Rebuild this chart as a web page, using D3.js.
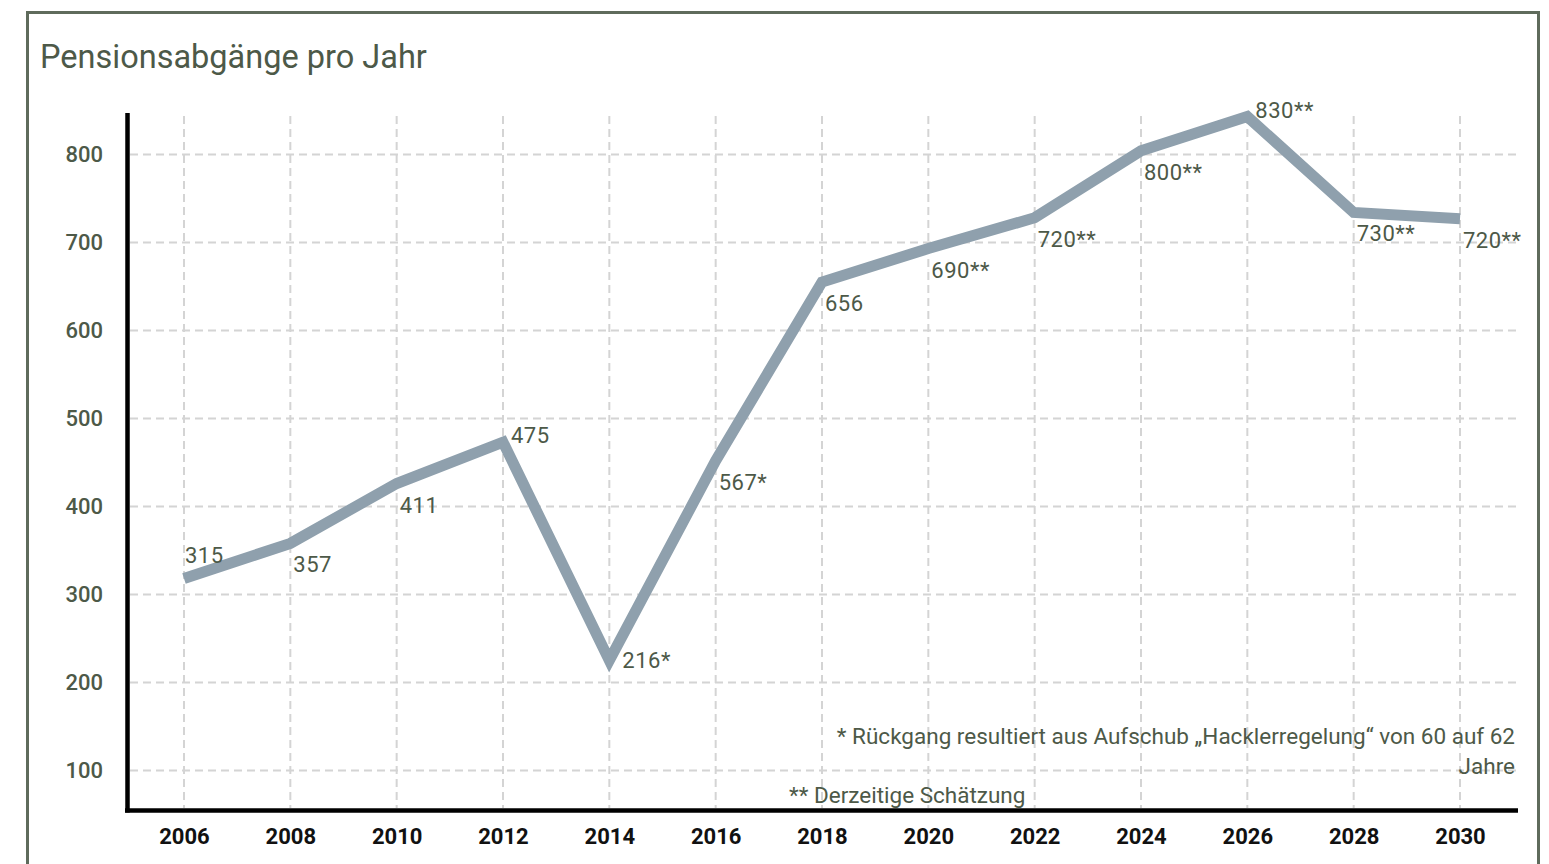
<!DOCTYPE html>
<html>
<head>
<meta charset="utf-8">
<script src="https://cdn.jsdelivr.net/npm/d3@7"></script>
<style>
  html, body { margin: 0; padding: 0; background: #fff; }
  svg { display: block; }
  text { font-family: Roboto, "Noto Sans", sans-serif; }
</style>
</head>
<body>
<svg id="chart" width="1549" height="864"></svg>
<script>
// ---- data ----
const years = ["2006","2008","2010","2012","2014","2016","2018","2020","2022","2024","2026","2028","2030"];
const values = [318, 358, 426, 473, 225, 452, 655, 693, 728, 804, 843, 734, 727];
const pointLabels = ["315","357","411","475","216*","567*","656","690**","720**","800**","830**","730**","720**"];
const yTicks = [100, 200, 300, 400, 500, 600, 700, 800];
const title = "Pensionsabgänge pro Jahr";
const footnote1 = ["* Rückgang resultiert aus Aufschub „Hacklerregelung“ von 60 auf 62", "Jahre"];
const footnote2 = "** Derzeitige Schätzung";

// ---- layout ----
const svg = d3.select("#chart");
const textColor = "#4d5948";

svg.append("rect")
  .attr("x", 27.5).attr("y", 12.5).attr("width", 1511).attr("height", 900)
  .attr("fill", "none").attr("stroke", "#5f6b5c").attr("stroke-width", 3);

svg.append("text").attr("x", 40).attr("y", 68)
  .attr("font-size", 32.5).attr("fill", textColor).text(title);

const x = d3.scalePoint().domain(years).range([127, 1517]).padding(0.536);
const y = d3.scaleLinear().domain([55, 845]).range([810, 114.8]);

// grid
const grid = svg.append("g");
grid.selectAll("line.h").data(yTicks).join("line")
  .attr("x1", 130).attr("x2", 1517)
  .attr("y1", d => y(d)).attr("y2", d => y(d))
  .attr("stroke", "#d4d4d4").attr("stroke-width", 2).attr("stroke-dasharray", "8,5");
grid.selectAll("line.v").data(years).join("line")
  .attr("x1", d => x(d)).attr("x2", d => x(d))
  .attr("y1", 116).attr("y2", 808)
  .attr("stroke", "#d4d4d4").attr("stroke-width", 2).attr("stroke-dasharray", "8,5");

// y axis labels
const yAxis = d3.axisLeft(y).tickValues(yTicks).tickSize(0).tickPadding(0);
const gy = svg.append("g").attr("transform", "translate(103,0)").call(yAxis);
gy.select(".domain").remove();
gy.selectAll("text").attr("font-size", 22).attr("fill", textColor)
  .attr("font-family", "Roboto, sans-serif").attr("font-weight", 500);

// x axis labels
const xAxis = d3.axisBottom(x).tickSize(0).tickPadding(0);
const gx = svg.append("g").attr("transform", "translate(0,828)").call(xAxis);
gx.select(".domain").remove();
gx.selectAll("text").attr("font-size", 22).attr("fill", "#111")
  .attr("font-family", "Roboto, sans-serif").attr("font-weight", 700);

// axis lines
svg.append("line").attr("x1", 127.5).attr("x2", 127.5).attr("y1", 113).attr("y2", 812.5)
  .attr("stroke", "#000").attr("stroke-width", 4.5);
svg.append("line").attr("x1", 125).attr("x2", 1518).attr("y1", 810.5).attr("y2", 810.5)
  .attr("stroke", "#000").attr("stroke-width", 4.5);

// line
const pts = years.map((yr, i) => ({ yr, v: values[i], label: pointLabels[i], i }));
svg.append("path").datum(pts)
  .attr("d", d3.line().x(d => x(d.yr)).y(d => y(d.v)))
  .attr("fill", "none").attr("stroke", "#8fa0ad").attr("stroke-width", 11)
  .attr("stroke-linejoin", "miter").attr("stroke-miterlimit", 10);

// point labels: placement derived from the line shape
function offset(d) {
  const prev = values[d.i - 1], next = values[d.i + 1];
  if (prev === undefined) return [1, -16];
  if (next !== undefined && d.v > prev && d.v > next) return [8, 1];
  if (next !== undefined && d.v < prev && d.v < next) return [13, 8];
  return [3, 29];
}
svg.append("g").selectAll("text").data(pts).join("text")
  .attr("x", d => x(d.yr) + offset(d)[0])
  .attr("y", d => y(d.v) + offset(d)[1])
  .attr("font-size", 22).attr("fill", textColor)
  .attr("letter-spacing", 0.5)
  .text(d => d.label);

// footnotes
svg.append("g").selectAll("text").data(footnote1).join("text")
  .attr("x", 1515).attr("y", (d, i) => 744 + i * 30)
  .attr("text-anchor", "end").attr("font-size", 22.5).attr("fill", textColor)
  .text(d => d);
svg.append("text").attr("x", 789).attr("y", 803)
  .attr("font-size", 22.5).attr("fill", textColor).text(footnote2);
</script>
</body>
</html>
